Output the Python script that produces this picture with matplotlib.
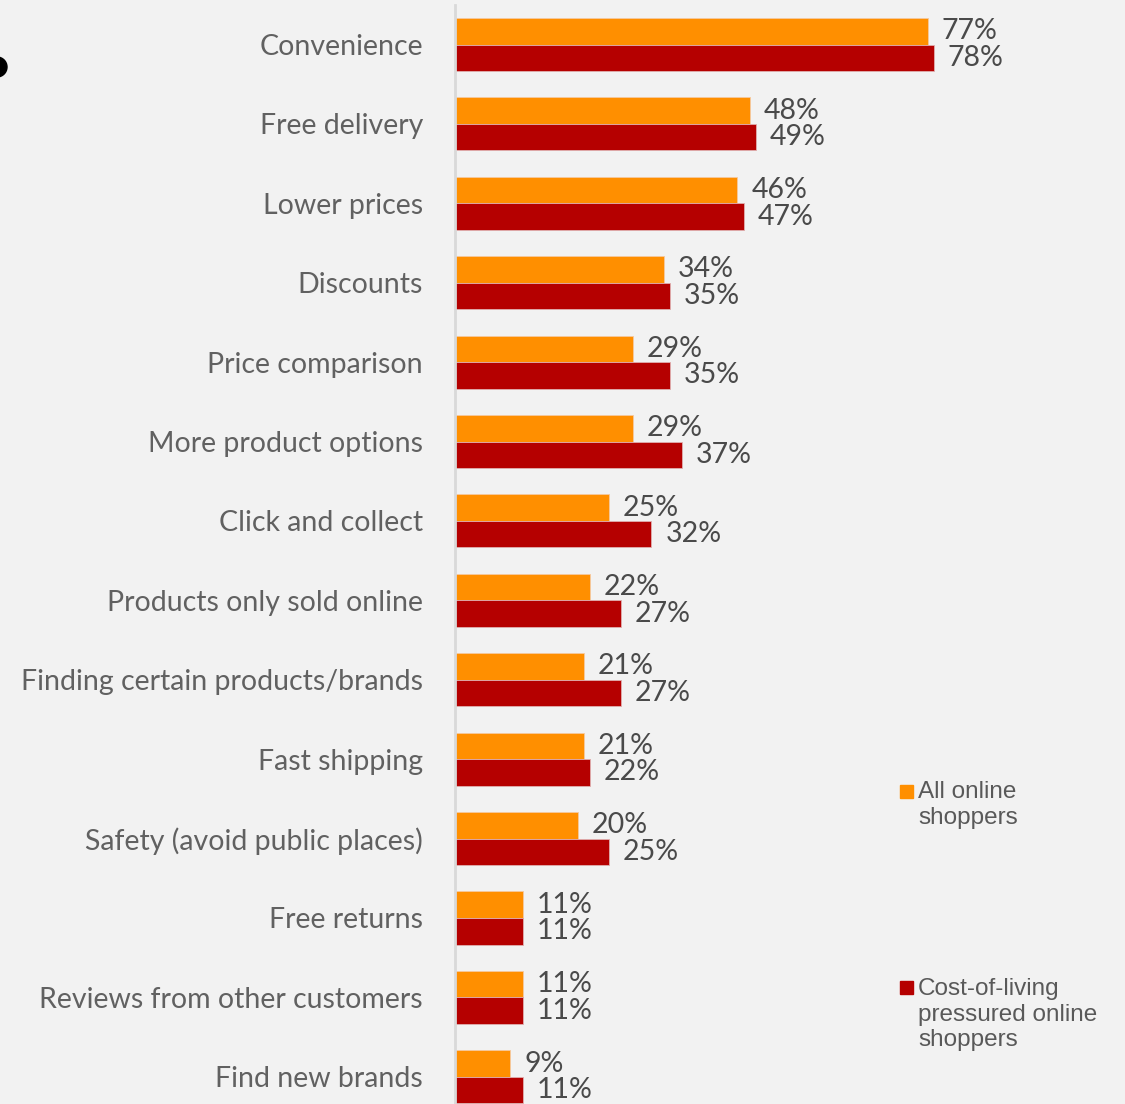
import matplotlib.pyplot as plt
from matplotlib.patches import Ellipse, Rectangle

W, H = 1125, 1104

categories = [
    "Convenience",
    "Free delivery",
    "Lower prices",
    "Discounts",
    "Price comparison",
    "More product options",
    "Click and collect",
    "Products only sold online",
    "Finding certain products/brands",
    "Fast shipping",
    "Safety (avoid public places)",
    "Free returns",
    "Reviews from other customers",
    "Find new brands",
]
all_shoppers = [77, 48, 46, 34, 29, 29, 25, 22, 21, 21, 20, 11, 11, 9]
pressured_shoppers = [78, 49, 47, 35, 35, 37, 32, 27, 27, 22, 25, 11, 11, 11]
series_names = ["All online\nshoppers", "Cost-of-living\npressured online\nshoppers"]

ORANGE = "#FF8F00"
RED = "#B50000"
BG = "#F2F2F2"
LABEL_FONT = ["Lato", "DejaVu Sans"]
LEGEND_FONT = ["Liberation Sans", "DejaVu Sans"]


def fx(px):
    return px / W


def fy(py):
    return 1 - py / H


fig = plt.figure(figsize=(W / 100, H / 100), dpi=100, facecolor=BG)
ax = fig.add_axes([fx(455), fy(1116.5), 1 - fx(455), (1116.5 - 4.8) / H])
ax.set_facecolor(BG)

n = len(categories)
ypos = list(range(n))
bar_h = 0.334

ax.barh([y - bar_h / 2 for y in ypos], all_shoppers, height=bar_h,
        color=ORANGE, edgecolor="#F5C9A0", linewidth=0.6)
ax.barh([y + bar_h / 2 for y in ypos], pressured_shoppers, height=bar_h,
        color=RED, edgecolor="#E0B0B0", linewidth=0.6)

label_kw = dict(va="center", ha="left", fontsize=20.5, color="#4A4A4A",
                family=LABEL_FONT)
for y, a, b in zip(ypos, all_shoppers, pressured_shoppers):
    ax.annotate(f"{a}%", (a, y - bar_h / 2), xytext=(10, 0),
                textcoords="offset points", **label_kw)
    ax.annotate(f"{b}%", (b, y + bar_h / 2), xytext=(10, 0),
                textcoords="offset points", **label_kw)

ax.set_xlim(0, 670 / 6.14)
ax.set_ylim(n - 0.5, -0.5)
ax.set_yticks(ypos)
ax.set_yticklabels(categories, fontsize=20.5, color="#616161", family=LABEL_FONT)
ax.tick_params(axis="y", length=0, pad=23)
ax.set_xticks([])
for side in ["top", "right", "bottom"]:
    ax.spines[side].set_visible(False)
ax.spines["left"].set_color("#D9D9D9")
ax.spines["left"].set_linewidth(2)

# legend drawn by hand, entries spaced far apart
for color, name, sq_top, text_mid in [(ORANGE, series_names[0], 785, 805),
                                      (RED, series_names[1], 981, 1014.5)]:
    fig.add_artist(Rectangle((fx(900), fy(sq_top + 13)), fx(13), 13 / H,
                             transform=fig.transFigure, color=color))
    fig.text(fx(918), fy(text_mid), name, ha="left", va="center", fontsize=17.5,
             color="#595959", family=LEGEND_FONT, linespacing=1.22)

# bullet dot at the left edge
fig.add_artist(Ellipse((fx(-3), fy(67)), 20 / W, 20 / H,
                       transform=fig.transFigure, color="black"))

fig.savefig("out.png", dpi=100, facecolor=BG)
